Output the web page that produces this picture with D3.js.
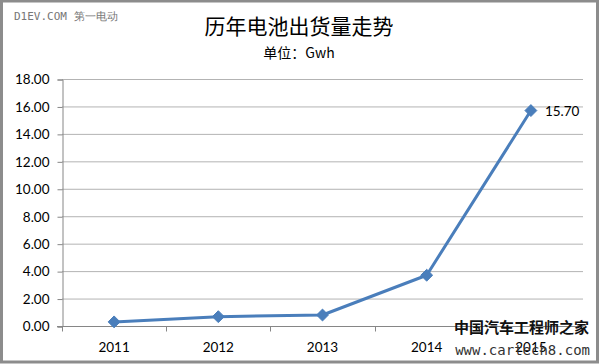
<!DOCTYPE html>
<html>
<head>
<meta charset="utf-8">
<script src="https://cdn.jsdelivr.net/npm/d3@7"></script>
<style>
  body { margin: 0; background: #fff; }
  svg { display: block; }
</style>
</head>
<body>
<div id="chart"></div>
<script>
var years = ['2011', '2012', '2013', '2014', '2015'];
var shipments = [0.3, 0.68, 0.8, 3.7, 15.7];
var yTicks = [0, 2, 4, 6, 8, 10, 12, 14, 16, 18];
var labelled = ['2015'];

var W = 600, H = 364;
var m = { top: 79, right: 17, bottom: 38, left: 62 };

var svg = d3.select('#chart').append('svg')
  .attr('width', W)
  .attr('height', H);

// outer frame
svg.append('rect')
  .attr('x', 1.5).attr('y', 1).attr('width', W - 4).attr('height', H - 3)
  .attr('fill', '#fff').attr('stroke', '#8c8c8c').attr('stroke-width', 3);

var x = d3.scaleBand().domain(years).range([m.left, W - m.right]);
var y = d3.scaleLinear().domain([0, 18]).range([H - m.bottom, m.top]);

var g = svg.append('g');

// gridlines
g.selectAll('line.grid')
  .data(yTicks.filter(function (d) { return d > 0; }))
  .enter().append('line')
    .attr('class', 'grid')
    .attr('x1', m.left).attr('x2', W - m.right)
    .attr('y1', function (d) { return y(d) + 0.5; })
    .attr('y2', function (d) { return y(d) + 0.5; })
    .attr('stroke', '#b3b3b3').attr('stroke-width', 1);

// y axis
var yAxis = d3.axisLeft(y).tickValues(yTicks).tickSize(5).tickPadding(8)
  .tickFormat(function (d) { return d.toFixed(2); });
var ya = g.append('g').attr('transform', 'translate(' + (m.left + 0.5) + ',0.5)').call(yAxis);
ya.select('.domain').attr('stroke', '#868686');
ya.selectAll('.tick line').attr('stroke', '#868686');
ya.selectAll('text').attr('fill', '#000').style('font', '13.5px Lato, "Open Sans", sans-serif');

// x axis, ticks at category boundaries
var xa = g.append('g').attr('transform', 'translate(0,' + (y(0) + 0.5) + ')');
xa.append('line').attr('x1', m.left - 5).attr('x2', W - m.right)
  .attr('stroke', '#868686');
var bounds = years.map(function (d) { return x(d); }).concat([x(years[years.length - 1]) + x.bandwidth()]);
xa.selectAll('line.tk').data(bounds).enter().append('line')
  .attr('class', 'tk')
  .attr('x1', function (d) { return Math.round(d) + 0.5; })
  .attr('x2', function (d) { return Math.round(d) + 0.5; })
  .attr('y1', 0).attr('y2', 5)
  .attr('stroke', '#868686');
xa.selectAll('text').data(years).enter().append('text')
  .attr('x', function (d) { return x(d) + x.bandwidth() / 2; })
  .attr('y', 25)
  .attr('text-anchor', 'middle')
  .style('font', '13.5px Lato, "Open Sans", sans-serif')
  .attr('fill', '#000')
  .text(function (d) { return d; });

// line
var line = d3.line()
  .x(function (d, i) { return x(years[i]) + x.bandwidth() / 2; })
  .y(function (d) { return y(d); });

g.append('path')
  .datum(shipments)
  .attr('d', line)
  .attr('fill', 'none')
  .attr('stroke', '#4a7ebb')
  .attr('stroke-width', 3)
  .attr('stroke-linejoin', 'round');

g.selectAll('path.pt')
  .data(shipments)
  .enter().append('path')
    .attr('class', 'pt')
    .attr('d', d3.symbol().type(d3.symbolDiamond2).size(90))
    .attr('transform', function (d, i) {
      return 'translate(' + (x(years[i]) + x.bandwidth() / 2) + ',' + y(d) + ')';
    })
    .attr('fill', '#4a7ebb')
    .attr('stroke', '#4a7ebb')
    .attr('stroke-width', 1);

// data label
g.selectAll('text.lbl')
  .data(shipments.filter(function (d, i) { return labelled.indexOf(years[i]) >= 0; }))
  .enter().append('text')
    .attr('class', 'lbl')
    .attr('x', x(labelled[0]) + x.bandwidth() / 2 + 14)
    .attr('y', function (d) { return y(d) + 5; })
    .style('font', '13.5px Lato, "Open Sans", sans-serif')
    .attr('fill', '#000')
    .text(function (d) { return d.toFixed(2); });

// titles
svg.append('text')
  .attr('x', 299).attr('y', 34)
  .attr('text-anchor', 'middle')
  .style('font', '21px "Noto Sans CJK SC", sans-serif')
  .attr('fill', '#000')
  .text('历年电池出货量走势');

svg.append('text')
  .attr('x', 299).attr('y', 58)
  .attr('text-anchor', 'middle')
  .style('font', '14px "Noto Sans CJK SC", sans-serif')
  .attr('fill', '#000')
  .text('单位：Gwh');

// watermarks
svg.append('text')
  .attr('x', 14).attr('y', 20)
  .style('font', '11px "DejaVu Sans Mono", monospace')
  .attr('fill', '#777')
  .text('D1EV.COM 第一电动');

svg.append('text')
  .attr('x', 589).attr('y', 333)
  .attr('text-anchor', 'end')
  .style('font', 'bold 15px "Noto Sans CJK SC", sans-serif')
  .attr('fill', '#111')
  .text('中国汽车工程师之家');

svg.append('text')
  .attr('x', 590).attr('y', 355)
  .attr('text-anchor', 'end')
  .style('font', '14px "DejaVu Sans Mono", monospace')
  .attr('fill', '#333')
  .text('www.cartech8.com');
</script>
</body>
</html>
